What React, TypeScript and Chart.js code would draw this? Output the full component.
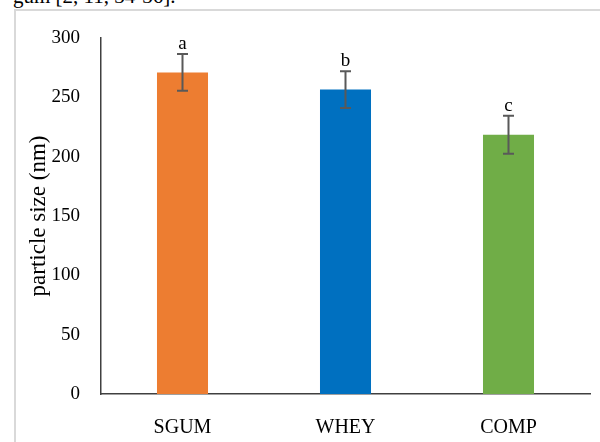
import React, { useEffect, useRef } from "react";
import { Chart, registerables } from "chart.js";

Chart.register(...registerables);

const categories = ["SGUM", "WHEY", "COMP"];
const values = [271, 256.5, 218.5];
const errors = [15.5, 15.5, 16];
const letters = ["a", "b", "c"];
const barColors = ["#ED7D31", "#0070C0", "#70AD47"];
const yTitle = "particle size (nm)";
const topText = "gum [2, 11, 34-36].";

const SERIF = "'Liberation Serif', 'Times New Roman', serif";

const errorBarPlugin = {
  id: "errorBars",
  afterDatasetsDraw(chart: any) {
    const { ctx } = chart;
    const meta = chart.getDatasetMeta(0);
    const y = chart.scales.y;
    ctx.save();
    meta.data.forEach((bar: any, i: number) => {
      const x = bar.x;
      const top = y.getPixelForValue(values[i] + errors[i]);
      const bot = y.getPixelForValue(values[i] - errors[i]);
      ctx.strokeStyle = "#595959";
      ctx.lineWidth = 2;
      ctx.beginPath();
      ctx.moveTo(x, top);
      ctx.lineTo(x, bot);
      ctx.moveTo(x - 5.5, top);
      ctx.lineTo(x + 5.5, top);
      ctx.moveTo(x - 5.5, bot);
      ctx.lineTo(x + 5.5, bot);
      ctx.stroke();
      ctx.fillStyle = "#000";
      ctx.font = `19px ${SERIF}`;
      ctx.textAlign = "center";
      ctx.textBaseline = "alphabetic";
      ctx.fillText(letters[i], x, top - 5);
    });
    ctx.restore();
  },
};

export default function App() {
  const ref = useRef<HTMLCanvasElement | null>(null);
  useEffect(() => {
    if (!ref.current) return;
    const chart = new Chart(ref.current, {
      type: "bar",
      data: {
        labels: categories,
        datasets: [
          {
            data: values,
            backgroundColor: barColors,
            borderWidth: 0,
            categoryPercentage: 1,
            barPercentage: 0.313,
          },
        ],
      },
      options: {
        animation: false,
        responsive: false,
        devicePixelRatio: 1,
        layout: { padding: { left: 0, right: 10, top: 38, bottom: 0 } },
        plugins: {
          legend: { display: false },
          tooltip: { enabled: false },
        },
        scales: {
          x: {
            grid: { display: false, drawTicks: false },
            border: { display: true, color: "#404040", width: 1.5 },
            ticks: {
              color: "#000",
              font: { family: SERIF, size: 20 },
              padding: 22,
            },
            afterFit: (s: any) => {
              s.height = 48;
            },
          },
          y: {
            min: 0,
            max: 300,
            grid: { display: false, drawTicks: false },
            border: { display: true, color: "#404040", width: 1.5 },
            ticks: {
              stepSize: 50,
              color: "#000",
              font: { family: SERIF, size: 19 },
              padding: 21,
            },
            title: {
              display: true,
              text: yTitle,
              color: "#000",
              font: { family: SERIF, size: 23 },
              padding: { top: 25, bottom: 0 },
            },
            afterFit: (s: any) => {
              s.width = 101;
            },
          },
        },
      },
      plugins: [errorBarPlugin],
    });
    return () => chart.destroy();
  }, []);

  return (
    <div
      style={{
        position: "absolute",
        left: 0,
        top: 0,
        width: 600,
        height: 442,
        overflow: "hidden",
        background: "#fff",
      }}
    >
      <div
        style={{
          position: "absolute",
          left: 13,
          top: -14,
          fontFamily: SERIF,
          fontSize: 21,
          lineHeight: "21px",
          whiteSpace: "nowrap",
          color: "#000",
        }}
      >
        {topText}
      </div>
      <div
        style={{
          position: "absolute",
          left: 14,
          top: 9,
          width: 800,
          height: 800,
          border: "2px solid #d9d9d9",
        }}
      />
      <canvas
        ref={ref}
        width={600}
        height={442}
        style={{ position: "absolute", left: 0, top: 0, width: 600, height: 442 }}
      />
    </div>
  );
}
